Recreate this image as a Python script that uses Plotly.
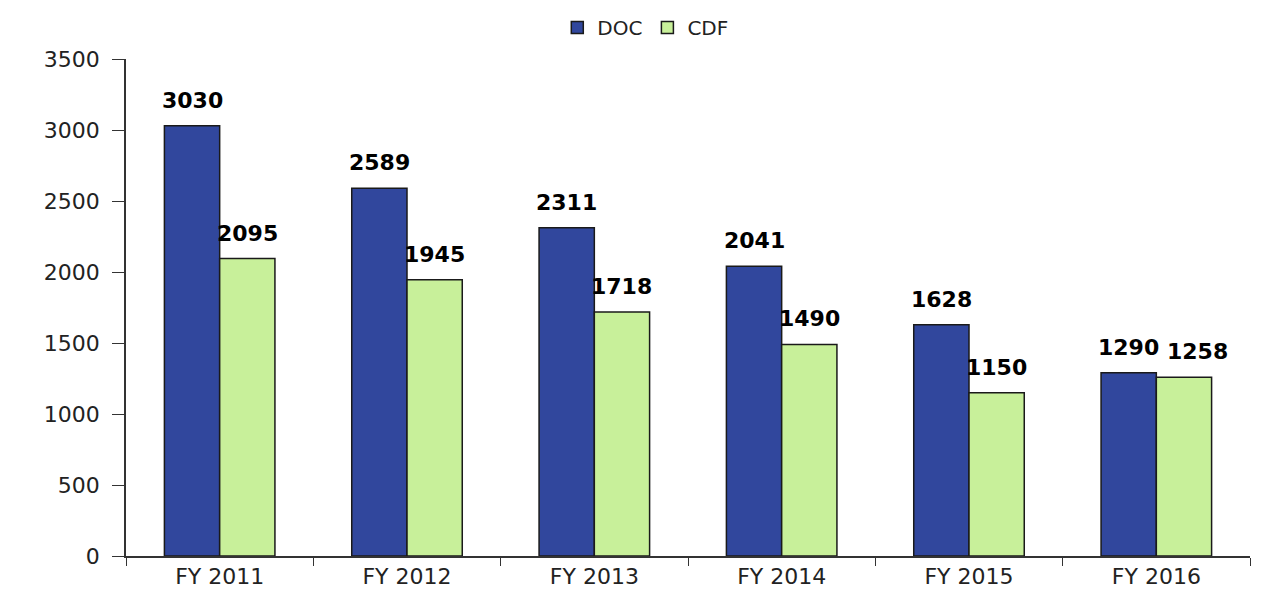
import plotly.graph_objects as go

categories = ["FY 2011", "FY 2012", "FY 2013", "FY 2014", "FY 2015", "FY 2016"]
doc_values = [3030, 2589, 2311, 2041, 1628, 1290]
cdf_values = [2095, 1945, 1718, 1490, 1150, 1258]
y_ticks = [0, 500, 1000, 1500, 2000, 2500, 3000, 3500]

DOC_COLOR = "#31479D"
CDF_COLOR = "#C8F09A"
FONT = "DejaVu Sans, Verdana, sans-serif"

fig = go.Figure()
fig.add_trace(go.Bar(name="DOC", x=categories, y=doc_values, marker=dict(color=DOC_COLOR, line=dict(color="#1a1a1a", width=1.5))))
fig.add_trace(go.Bar(name="CDF", x=categories, y=cdf_values, marker=dict(color=CDF_COLOR, line=dict(color="#1a1a1a", width=1.5))))

bargap = 0.41
half = (1 - bargap) / 4
annotations = []
n = len(categories)
for i, (d, c) in enumerate(zip(doc_values, cdf_values)):
    for off, v, xs in ((-half, d, 0), (half, c, 14 if i == n - 1 else 0)):
        annotations.append(dict(x=i + off, y=v, xref="x", yref="y", text=f"<b>{v}</b>",
                                showarrow=False, yanchor="bottom", yshift=11, xshift=xs,
                                font=dict(family=FONT, size=22, color="#000000")))

fig.update_layout(
    barmode="group", bargap=bargap, bargroupgap=0,
    width=1254, height=588,
    margin=dict(l=118, r=12, t=51, b=40, autoexpand=False),
    plot_bgcolor="white", paper_bgcolor="white",
    font=dict(family=FONT, size=22, color="#222222"),
    legend=dict(orientation="h", x=0.462, xanchor="center", y=1, yref="container", yanchor="top",
                font=dict(size=20), itemwidth=30, bgcolor="rgba(0,0,0,0)", tracegroupgap=0),
    annotations=annotations,
    showlegend=True,
)
fig.update_xaxes(showline=True, linecolor="#333333", linewidth=1.5, ticks="outside", tickson="boundaries",
                 ticklen=8, tickcolor="#333333", showgrid=False, tickfont=dict(size=22), automargin=False)
fig.update_yaxes(range=[0, 3500], tickvals=y_ticks, showline=True, linecolor="#333333", linewidth=1.5,
                 ticks="outside", ticklen=12, tickcolor="#333333", showgrid=False, zeroline=False,
                 tickfont=dict(size=22), ticklabelstandoff=8, automargin=False)

fig.write_html("out.html")
